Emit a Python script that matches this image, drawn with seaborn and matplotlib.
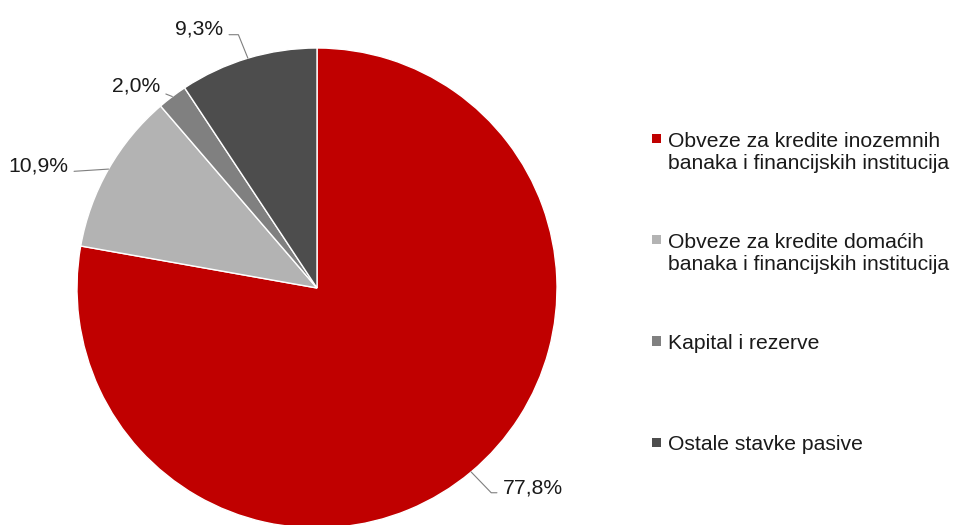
import matplotlib
matplotlib.use('Agg')
import matplotlib.pyplot as plt
import matplotlib.patches as mpatches
from matplotlib.legend_handler import HandlerPatch
import numpy as np
import seaborn as sns

# Struktura pasive (udjeli u %)
kategorije = ['Obveze za kredite inozemnih\nbanaka i financijskih institucija',
              'Obveze za kredite domaćih\nbanaka i financijskih institucija',
              'Kapital i rezerve\n ',
              'Ostale stavke pasive\n ']
udjeli = [77.8, 10.9, 2.0, 9.3]
boje = ['#C00000', '#B3B3B3', '#808080', '#4D4D4D']

sns.set_theme(style='white')
plt.rcParams['font.family'] = ['Liberation Sans', 'DejaVu Sans']
plt.rcParams['text.color'] = '#1a1a1a'

FS = 15.2

fig = plt.figure(figsize=(9.62, 5.25), dpi=100)
W, H = 962, 525
cx, cy, r = 317, 288, 240
ax = fig.add_axes([(cx - r) / W, (H - cy - r) / H, 2 * r / W, 2 * r / H])

wedges, _ = ax.pie(udjeli, colors=boje, startangle=90, counterclock=False,
                   wedgeprops=dict(edgecolor='white', linewidth=1.0))
ax.set_xlim(-1, 1)
ax.set_ylim(-1, 1)
ax.set_aspect('equal')
ax.axis('off')


# pozicije oznaka (pikseli slike) i oblik linija
def px(x, y):
    return ((x - cx) / r, (cy - y) / r)


oznake_poz = [px(503, 488), px(68, 166), px(160, 86), px(223, 29)]
ha_list = ['left', 'right', 'right', 'right']
rel_list = [(0, 0.25), (1, 0.2), (1, 0.2), (1, 0.2)]
conn_list = ['angle,angleA=0,angleB=-46,rad=0', 'arc3', 'arc3',
             'angle,angleA=0,angleB=-68,rad=0']

for w, v, pos, ha, rel, conn in zip(wedges, udjeli, oznake_poz, ha_list, rel_list, conn_list):
    mid = np.deg2rad((w.theta1 + w.theta2) / 2)
    txt = f'{v:.1f}'.replace('.', ',') + '%'
    ax.annotate(txt, xy=(np.cos(mid), np.sin(mid)), xytext=pos,
                ha=ha, va='center', fontsize=FS, annotation_clip=False,
                arrowprops=dict(arrowstyle='-', color='#7f7f7f', lw=0.8,
                                shrinkA=2, shrinkB=0, relpos=rel,
                                connectionstyle=conn))


# mali kvadratic poravnat s prvim redom teksta
def kvadrat(legend, orig_handle, xdescent, ydescent, width, height, fontsize):
    s = 0.43 * fontsize
    x0 = -xdescent + width - s
    y0 = -ydescent + height / 2 - s / 2 + 0.66 * fontsize
    return mpatches.Rectangle((x0, y0), s, s)


handles = [mpatches.Patch(facecolor=c, edgecolor='none') for c in boje]
leg = fig.legend(handles, kategorije, loc='upper left',
                 bbox_to_anchor=(642 / W, 1 - 132 / H), frameon=False,
                 fontsize=FS, labelspacing=2.85, handlelength=0.9,
                 handletextpad=0.35, borderpad=0, borderaxespad=0,
                 handler_map={mpatches.Patch: HandlerPatch(patch_func=kvadrat)})
for t in leg.get_texts():
    t.set_linespacing(1.2)

plt.savefig('out.png', dpi=100)
